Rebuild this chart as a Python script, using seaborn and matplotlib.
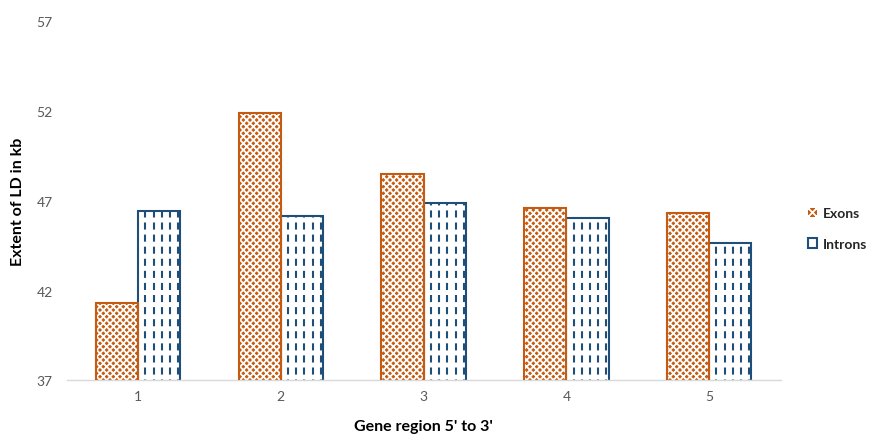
import matplotlib
matplotlib.use("Agg")
import matplotlib.pyplot as plt
from matplotlib.patches import Patch, Rectangle
from matplotlib.lines import Line2D
import pandas as pd
import seaborn as sns

regions = ["1", "2", "3", "4", "5"]
exons = [41.34, 51.88, 48.48, 46.59, 46.32]
introns = [46.41, 46.13, 46.87, 46.02, 44.63]
series_names = ["Exons", "Introns"]
y_ticks = [37, 42, 47, 52, 57]

ORANGE = "#C55A11"
BLUE = "#1F4E79"
GREY = "#595959"

df = pd.DataFrame({
    "region": regions * 2,
    "value": exons + introns,
    "series": [series_names[0]] * len(regions) + [series_names[1]] * len(regions),
})

sns.set_theme(style="white")
plt.rcParams["font.family"] = ["Lato", "DejaVu Sans"]
plt.rcParams["hatch.linewidth"] = 1.3

fig = plt.figure(figsize=(8.73, 4.35), dpi=100)
ax = fig.add_axes([0.0762, 0.123, 0.818, 0.826])

sns.barplot(data=df, x="region", y="value", hue="series",
            palette=[ORANGE, "white"], width=0.59, gap=0,
            legend=False, ax=ax, errorbar=None)

ax.set_ylim(y_ticks[0], y_ticks[-1])
ax.set_yticks(y_ticks)

n = len(regions)
bars = [p for p in ax.patches if isinstance(p, Rectangle)][: 2 * n]
for i, p in enumerate(bars):
    x0, y0 = p.get_x(), p.get_y()
    w, h = p.get_width(), p.get_height()
    if i < n:
        # orange bar with fine white diamond pattern
        p.set_facecolor(ORANGE)
        p.set_edgecolor("white")
        p.set_hatch("xxxxx")
        p.set_linewidth(0)
        ax.add_patch(Rectangle((x0, y0), w, h, fill=False,
                               edgecolor=ORANGE, linewidth=1.5, zorder=3))
    else:
        # white bar with dashed vertical blue strokes
        p.set_facecolor("white")
        p.set_edgecolor(BLUE)
        p.set_linewidth(1.5)
        for frac in (0.17, 0.37, 0.56, 0.76, 0.95):
            ln = Line2D([x0 + frac * w] * 2, [y0, y0 + h], color=BLUE,
                        linewidth=1.5, dashes=(3.4, 2.4), zorder=3)
            ln.set_clip_path(p)
            ax.add_line(ln)

for s in ["top", "right", "left"]:
    ax.spines[s].set_visible(False)
ax.spines["bottom"].set_color("#D9D9D9")
ax.spines["bottom"].set_linewidth(1.0)
ax.tick_params(axis="both", length=0, labelsize=10, labelcolor=GREY)
ax.tick_params(axis="y", pad=10)
ax.tick_params(axis="x", pad=7)

ax.set_ylabel("Extent of LD in kb", fontsize=11.5, fontweight="bold",
              color="black", labelpad=8)
ax.set_xlabel("Gene region 5' to 3'", fontsize=11.5, fontweight="bold",
              color="black", labelpad=12)

handles = [
    Patch(facecolor=ORANGE, edgecolor="white", linewidth=0, hatch="xxxx",
          label=series_names[0]),
    Patch(facecolor="white", edgecolor=BLUE, linewidth=1.5, label=series_names[1]),
]
fig.legend(handles=handles, loc="center left", bbox_to_anchor=(0.925, 0.472),
           frameon=False, borderpad=0, borderaxespad=0,
           handlelength=0.7, handleheight=0.7,
           handletextpad=0.4, labelspacing=1.35,
           prop={"size": 10, "weight": "bold"})

fig.savefig("out.png", dpi=100)
